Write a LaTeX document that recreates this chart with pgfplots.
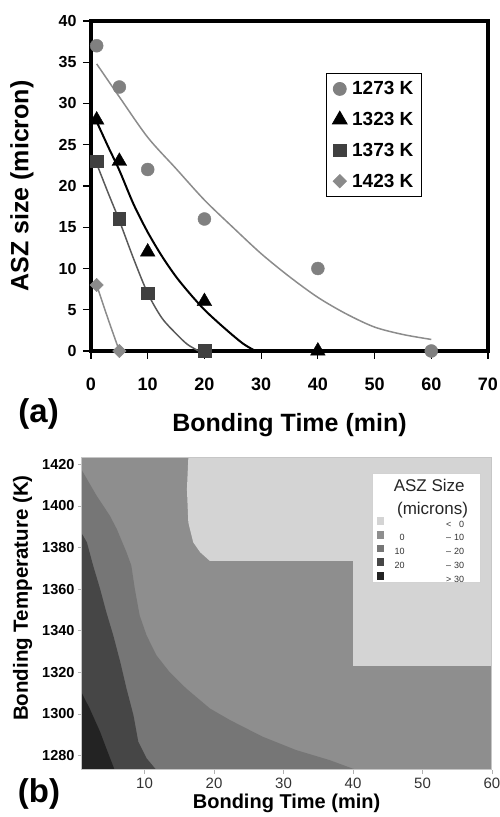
\documentclass[border=0pt]{standalone}
\usepackage{fontspec}
\setmainfont{Liberation Sans}
\usepackage{pgfplots}
\pgfplotsset{compat=1.18}

\definecolor{cA}{HTML}{808080}
\definecolor{cB}{HTML}{000000}
\definecolor{cC}{HTML}{404040}
\definecolor{cD}{HTML}{8A8A8A}
\definecolor{lA}{HTML}{8C8C8C}
\definecolor{lC}{HTML}{595959}
\definecolor{z0}{HTML}{D4D4D4}
\definecolor{z1}{HTML}{8E8E8E}
\definecolor{z2}{HTML}{767676}
\definecolor{z3}{HTML}{464646}
\definecolor{z4}{HTML}{232323}

\begin{document}
\begin{tikzpicture}[x=1pt,y=1pt]
\useasboundingbox (0,0) rectangle (500,817);

% (a) ASZ size vs bonding time
\begin{axis}[
    at={(91pt,466pt)}, anchor=south west,
    scale only axis, width=397pt, height=330pt,
    xmin=0, xmax=70, ymin=0, ymax=40,
    xtick={0,10,...,70}, ytick={0,5,...,40},
    axis line style={line width=3.5pt},
    tick style={black, line width=1.2pt},
    major tick length=8pt, tick align=outside,
    xtick pos=left, ytick pos=left,
    /pgf/number format/assume math mode=true,
    yticklabel style={font=\fontsize{16}{16}\selectfont\bfseries, xshift=-3pt},
    xticklabel style={font=\fontsize{18}{18}\selectfont\bfseries, yshift=-15pt},
    xlabel={Bonding Time (min)},
    ylabel={ASZ size (micron)},
    xlabel style={at={(axis description cs:0.5,-0.224)}, anchor=center, font=\fontsize{25}{25}\selectfont\bfseries},
    ylabel style={at={(axis description cs:-0.1738,0.5)}, anchor=center, font=\fontsize{25}{25}\selectfont\bfseries},
    clip=false,
    legend cell align=left,
    legend image code/.code={\draw[#1] plot coordinates {(0pt,0pt)};},
    legend style={at={(axis description cs:0.592,0.842)}, anchor=north west,
        draw=black, line width=0.8pt, inner xsep=6pt, inner ysep=6pt,
        row sep=12pt, column sep=3pt,
        font=\fontsize{19}{19}\selectfont\bfseries},
]
\addplot[smooth, color=lA, line width=1.5pt, forget plot] coordinates {
(1,34.8)(5,30.8)(10,25.9)(15,22.1)(20,18.3)(25,15.0)(30,11.8)(35,9.0)(40,6.5)(45,4.5)(50,2.9)(55,2.0)(60,1.4)};
\addplot[smooth, color=cB, line width=2pt, forget plot] coordinates {
(1,27.8)(3,24.8)(5,21.9)(7.5,17.8)(10,14.4)(12.5,11.5)(15,9.0)(17.5,6.9)(20,5.0)(22.5,3.4)(25,1.9)(27,0.8)(29,0)};
\addplot[smooth, color=lC, line width=1.5pt, forget plot] coordinates {
(1,22.7)(3,19.2)(5,15.8)(7.5,11.2)(10,7.0)(12.5,4.0)(15,2.1)(17,0.8)(19,0)};
\addplot[smooth, color=lA, line width=1.5pt, forget plot] coordinates {
(1,8)(3,3.9)(5,0)};

\addplot[only marks, mark=*, mark size=6.5pt, color=cA] coordinates {
(1,37)(5,32)(10,22)(20,16)(40,10)(60,0)};
\addlegendentry{1273 K}
\addplot[only marks, mark=triangle*, mark size=8.5pt, color=cB] coordinates {
(1,28)(5,23)(10,12)(20,6)(40,0)};
\addlegendentry{1323 K}
\addplot[only marks, mark=square*, mark size=6.3pt, color=cC] coordinates {
(1,23)(5,16)(10,7)(20,0)};
\addlegendentry{1373 K}
\addplot[only marks, mark=square*, mark size=4.7pt, mark options={rotate=45}, color=cD] coordinates {
(1,8)(5,0)};
\addlegendentry{1423 K}

\node[font=\fontsize{33}{33}\selectfont\bfseries] at (axis description cs:-0.132,-0.19) {(a)};
\end{axis}

% (b) contour map
\begin{axis}[
    at={(82pt,47pt)}, anchor=south west,
    scale only axis, width=410pt, height=312pt,
    xmin=1, xmax=60, ymin=1273, ymax=1423,
    xtick={10,20,...,60}, ytick={1280,1300,...,1420},
    axis on top, clip mode=individual,
    axis line style={draw=gray!45, line width=1pt},
    tick style={draw=gray!60, line width=0.6pt},
    major tick length=4pt, tick align=outside,
    xtick pos=left, ytick pos=left,
    /pgf/number format/assume math mode=true,
    /pgf/number format/set thousands separator={},
    xticklabel style={font=\fontsize{15}{15}\selectfont, text=black!80},
    yticklabel style={font=\fontsize{14.5}{15}\selectfont\bfseries},
    xlabel={Bonding Time (min)},
    ylabel={Bonding Temperature (K)},
    xlabel style={at={(axis description cs:0.499,-0.106)}, anchor=center, font=\fontsize{20}{20}\selectfont\bfseries},
    ylabel style={at={(axis description cs:-0.145,0.551)}, anchor=center, font=\fontsize{20.5}{20.5}\selectfont\bfseries},
    legend cell align=left,
    legend image code/.code={\fill[#1, draw=none] (0pt,-0.3pt) rectangle (6.7pt,7.4pt);},
    legend style={at={(axis description cs:0.7188,0.8109)}, anchor=north west,
        draw=none, fill=none, inner sep=0pt, row sep=0pt, column sep=0pt,
        nodes={inner sep=0pt, text height=9pt, text depth=3.7pt},
        font=\fontsize{9}{9}\selectfont\color{black!80}},
]
\addplot[fill=z1, draw=none, forget plot] coordinates {
(1,1273)(60,1273)(60,1423)(1,1423)} -- cycle;
\addplot[fill=z0, draw=none, forget plot] coordinates {
(16.3,1423)(16.1,1408)(16.3,1392)(17.0,1382.5)(18.0,1377.7)(19.4,1373.5)
(40,1373.5)(40,1323)(60,1323)(60,1423)} -- cycle;
\addplot[fill=z2, draw=none, forget plot] coordinates {
(1,1273)(1,1417)(3.1,1404.9)(5.0,1395.3)(6.0,1388.9)(7.4,1377.7)(8.1,1371.3)
(8.6,1360.1)(9.3,1347.3)(10.3,1337.7)(11.7,1328.2)(13.6,1320.1)(16.0,1312.2)
(19.4,1302.6)(22.3,1297)(27.0,1289)(31.8,1282.6)(36.6,1277.8)(40.5,1273)} -- cycle;
\addplot[fill=z3, draw=none, forget plot] coordinates {
(1,1273)(1,1386.5)(1.7,1382.5)(2.6,1371.3)(3.6,1360.1)(4.5,1348.9)(5.5,1337.7)
(6.5,1325)(7.4,1312.2)(8.4,1299.4)(9.1,1286.6)(10.3,1278.6)(11.7,1273)} -- cycle;
\addplot[fill=z4, draw=none, forget plot] coordinates {
(1,1273)(1,1309.8)(2.1,1302.6)(3.6,1291.4)(4.5,1283.4)(5.7,1273)} -- cycle;

\draw[draw=gray!35, fill=white, line width=0.8pt]
    (axis description cs:0.708,0.602) rectangle (axis description cs:0.971,0.951);
\node[font=\fontsize{17}{17}\selectfont, text=black!85] at (axis description cs:0.8468,0.9135) {ASZ Size};
\node[font=\fontsize{17}{17}\selectfont, text=black!85] at (axis description cs:0.8549,0.8333) {(microns)};

\addlegendimage{fill=z0}
\addlegendentry{\makebox[21pt][r]{}\hspace{41.5pt}\makebox[8pt][l]{<}\makebox[10pt][r]{0}}
\addlegendimage{fill=z1}
\addlegendentry{\makebox[21pt][r]{0}\hspace{41.5pt}\makebox[8pt][l]{–}\makebox[10pt][r]{10}}
\addlegendimage{fill=z2}
\addlegendentry{\makebox[21pt][r]{10}\hspace{41.5pt}\makebox[8pt][l]{–}\makebox[10pt][r]{20}}
\addlegendimage{fill=z3}
\addlegendentry{\makebox[21pt][r]{20}\hspace{41.5pt}\makebox[8pt][l]{–}\makebox[10pt][r]{30}}
\addlegendimage{fill=z4}
\addlegendentry{\makebox[21pt][r]{}\hspace{41.5pt}\makebox[8pt][l]{>}\makebox[10pt][r]{30}}

\node[font=\fontsize{33}{33}\selectfont\bfseries] at (axis description cs:-0.105,-0.077) {(b)};
\end{axis}
\end{tikzpicture}
\end{document}
